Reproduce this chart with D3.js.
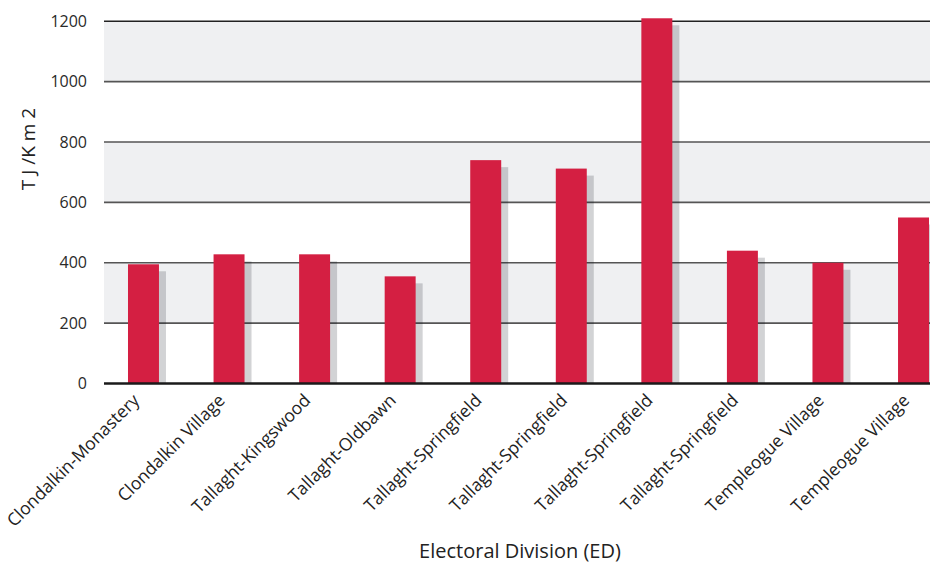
<!DOCTYPE html>
<html>
<head>
<meta charset="utf-8">
<script src="https://cdn.jsdelivr.net/npm/d3@7"></script>
<style>
  html, body { margin: 0; padding: 0; background: #fff; }
  svg { display: block; font-family: "Open Sans", sans-serif; }
</style>
</head>
<body>
<svg id="chart" width="930" height="566"></svg>
<script>
const categories = [
  "Clondalkin-Monastery", "Clondalkin Village", "Tallaght-Kingswood", "Tallaght-Oldbawn",
  "Tallaght-Springfield", "Tallaght-Springfield", "Tallaght-Springfield", "Tallaght-Springfield",
  "Templeogue Village", "Templeogue Village"
];
const values = [395, 428, 428, 355, 740, 712, 1210, 440, 400, 550];
const yTicks = [0, 200, 400, 600, 800, 1000, 1200];
const yTitle = "T J /K m 2";
const xTitle = "Electoral Division (ED)";

const svg = d3.select("#chart");
const gridLeft = 104, gridRight = 930;

const y = d3.scaleLinear().domain([0, 1200]).range([383.5, 21.3]);
const x = d3.scaleBand()
  .domain(d3.range(categories.length))
  .range([100.7, 956.3])
  .paddingInner(0.638)
  .paddingOuter(0.319);

// alternating bands
const bandPairs = [];
for (let i = 1; i < yTicks.length; i += 2) bandPairs.push([yTicks[i], yTicks[i + 1]]);
svg.append("g").selectAll("rect").data(bandPairs).join("rect")
  .attr("x", gridLeft).attr("width", gridRight - gridLeft)
  .attr("y", d => y(d[1])).attr("height", d => y(d[0]) - y(d[1]))
  .attr("fill", "#eff0f2");

// gridlines
svg.append("g").selectAll("line").data(yTicks.filter(t => t > 0)).join("line")
  .attr("x1", gridLeft).attr("x2", gridRight)
  .attr("y1", d => y(d)).attr("y2", d => y(d))
  .attr("stroke", d => d === 1200 ? "#222" : "#555")
  .attr("stroke-width", 1.6);

// y axis labels
const yAxis = d3.axisLeft(y).tickValues(yTicks).tickSize(0).tickPadding(17).tickFormat(d3.format("d"));
const ya = svg.append("g").attr("transform", `translate(${gridLeft},0)`).call(yAxis);
ya.select(".domain").remove();
ya.selectAll("text").attr("font-size", 16).attr("fill", "#2a2a2a").attr("font-family", "'Open Sans', sans-serif");

// shadows
const off = 7;
svg.append("g").selectAll("rect").data(values).join("rect")
  .attr("x", (d, i) => x(i) + off)
  .attr("y", d => y(d) + off)
  .attr("width", x.bandwidth())
  .attr("height", d => Math.max(0, y(0) - y(d) - off))
  .attr("fill", "rgba(10,15,25,0.185)");

// bars
svg.append("g").selectAll("rect").data(values).join("rect")
  .attr("x", (d, i) => x(i))
  .attr("y", d => y(d))
  .attr("width", x.bandwidth())
  .attr("height", d => y(0) - y(d))
  .attr("fill", "#d41f42");

// zero line
svg.append("line")
  .attr("x1", gridLeft).attr("x2", gridRight)
  .attr("y1", y(0)).attr("y2", y(0))
  .attr("stroke", "#1a1a1a").attr("stroke-width", 2.6);

// x labels
const xAxis = d3.axisBottom(x).tickSize(0).tickFormat(i => categories[i]);
const xa = svg.append("g").attr("transform", `translate(0,${y(0)})`).call(xAxis);
xa.select(".domain").remove();
xa.selectAll("text")
  .attr("font-size", 17.5).attr("fill", "#222").attr("font-family", "'Open Sans', sans-serif")
  .attr("text-anchor", "end")
  .attr("dy", 0)
  .attr("transform", "translate(-3,18) rotate(-45)")
  .attr("y", 0).attr("x", 0);

// titles
svg.append("text")
  .attr("transform", "translate(35,149) rotate(-90)")
  .attr("text-anchor", "middle")
  .attr("font-size", 19).attr("fill", "#222")
  .text(yTitle);

svg.append("text")
  .attr("x", 520).attr("y", 558)
  .attr("text-anchor", "middle")
  .attr("font-size", 20).attr("fill", "#222")
  .text(xTitle);
</script>
</body>
</html>
